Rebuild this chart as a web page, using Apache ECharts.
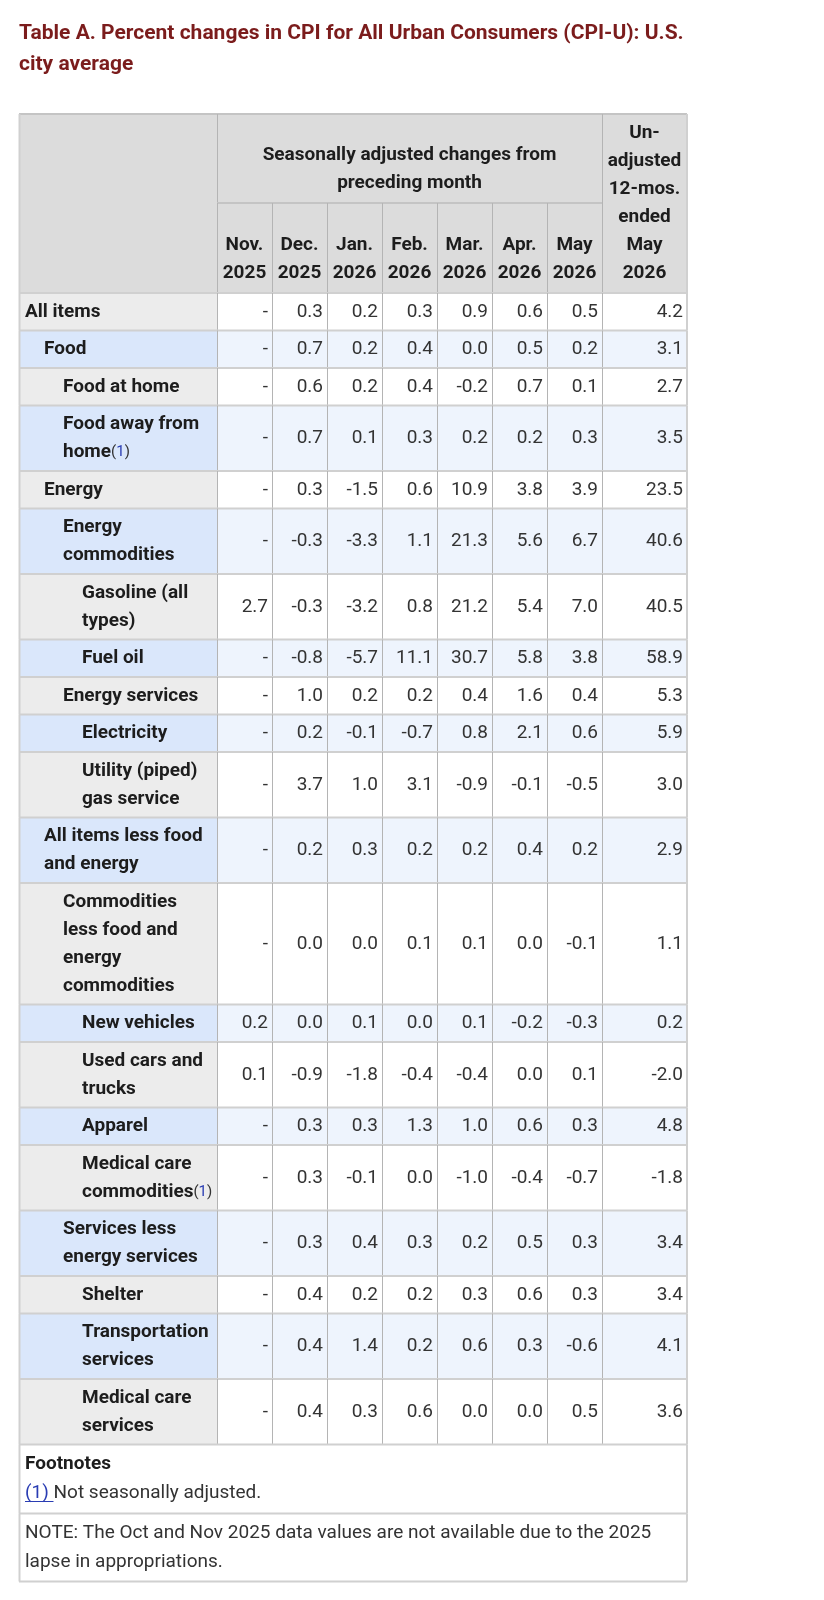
<!DOCTYPE html>
<html>
<head>
<meta charset="utf-8">
<script src="https://cdn.jsdelivr.net/npm/echarts@6/dist/echarts.min.js"></script>
<style>
  html, body { margin: 0; padding: 0; background: #fff; }
  #chart { width: 824px; height: 1600px; }
</style>
</head>
<body>
<div id="chart"></div>
<script>
// table texts
const tableTitle = 'Table A. Percent changes in CPI for All Urban Consumers (CPI-U): U.S.\ncity average'
const groupHeader = 'Seasonally adjusted changes from\npreceding month'
const yearHeader = 'Un-\nadjusted\n12-mos.\nended\nMay\n2026'
const months = ['Nov.\n2025', 'Dec.\n2025', 'Jan.\n2026', 'Feb.\n2026', 'Mar.\n2026', 'Apr.\n2026', 'May\n2026']
const footnoteText = 'Footnotes\n(1) Not seasonally adjusted.'
const noteText = 'NOTE: The Oct and Nov 2025 data values are not available due to the 2025\nlapse in appropriations.'

// row stubs and their indent level
const items = [
  'All items', 'Food', 'Food at home', 'Food away from\nhome(1)', 'Energy',
  'Energy\ncommodities', 'Gasoline (all\ntypes)', 'Fuel oil', 'Energy services', 'Electricity',
  'Utility (piped)\ngas service', 'All items less food\nand energy',
  'Commodities\nless food and\nenergy\ncommodities', 'New vehicles', 'Used cars and\ntrucks',
  'Apparel', 'Medical care\ncommodities(1)', 'Services less\nenergy services', 'Shelter',
  'Transportation\nservices', 'Medical care\nservices'
]
const levels = [0, 1, 2, 2, 1, 2, 3, 3, 2, 3, 3, 1, 2, 3, 3, 3, 3, 2, 3, 3, 3]

// monthly changes (null = not available)
const nov = [null, null, null, null, null, null, 2.7, null, null, null, null, null, null, 0.2, 0.1, null, null, null, null, null, null]
const dec = [0.3, 0.7, 0.6, 0.7, 0.3, -0.3, -0.3, -0.8, 1.0, 0.2, 3.7, 0.2, 0.0, 0.0, -0.9, 0.3, 0.3, 0.3, 0.4, 0.4, 0.4]
const jan = [0.2, 0.2, 0.2, 0.1, -1.5, -3.3, -3.2, -5.7, 0.2, -0.1, 1.0, 0.3, 0.0, 0.1, -1.8, 0.3, -0.1, 0.4, 0.2, 1.4, 0.3]
const feb = [0.3, 0.4, 0.4, 0.3, 0.6, 1.1, 0.8, 11.1, 0.2, -0.7, 3.1, 0.2, 0.1, 0.0, -0.4, 1.3, 0.0, 0.3, 0.2, 0.2, 0.6]
const mar = [0.9, 0.0, -0.2, 0.2, 10.9, 21.3, 21.2, 30.7, 0.4, 0.8, -0.9, 0.2, 0.1, 0.1, -0.4, 1.0, -1.0, 0.2, 0.3, 0.6, 0.0]
const apr = [0.6, 0.5, 0.7, 0.2, 3.8, 5.6, 5.4, 5.8, 1.6, 2.1, -0.1, 0.4, 0.0, -0.2, 0.0, 0.6, -0.4, 0.5, 0.6, 0.3, 0.0]
const may = [0.5, 0.2, 0.1, 0.3, 3.9, 6.7, 7.0, 3.8, 0.4, 0.6, -0.5, 0.2, -0.1, -0.3, 0.1, 0.3, -0.7, 0.3, 0.3, -0.6, 0.5]
// unadjusted 12 months ended May 2026
const yearly = [4.2, 3.1, 2.7, 3.5, 23.5, 40.6, 40.5, 58.9, 5.3, 5.9, 3.0, 2.9, 1.1, 0.2, -2.0, 4.8, -1.8, 3.4, 3.4, 4.1, 3.6]

const columns = [nov, dec, jan, feb, mar, apr, may, yearly]

// layout (px units on the hidden value axes)
const colWidths = [198, 55, 55, 55, 55, 55, 55, 55, 85]
const LINE = 28
const ROW_PAD = 9.5
const headTop = 89
const headBottom = 90
const footHeights = [69, 68]
const FONT = 'Roboto, "Noto Sans", sans-serif'
const FS = 19
const LINK = '#2a3db3'

const colX = [0]
colWidths.forEach(w => colX.push(colX[colX.length - 1] + w))
const tableW = colX[colX.length - 1]

const cells = []
function addCell (c) { cells.push(c) }

// header
const headH = headTop + headBottom
addCell({ kind: 'head', x0: 0, x1: colX[1], y0: 0, y1: headH, text: '' })
addCell({ kind: 'head', x0: colX[1], x1: colX[8], y0: 0, y1: headTop, text: groupHeader })
addCell({ kind: 'head', x0: colX[8], x1: colX[9], y0: 0, y1: headH, text: yearHeader })
months.forEach((m, i) => addCell({ kind: 'head', x0: colX[i + 1], x1: colX[i + 2], y0: headTop, y1: headH, text: m }))

// body
let y = headH
items.forEach((label, r) => {
  const h = label.split('\n').length * LINE + ROW_PAD
  const even = r % 2 === 1
  addCell({ kind: 'stub', x0: 0, x1: colX[1], y0: y, y1: y + h, text: label, level: levels[r], even })
  columns.forEach((col, c) => {
    const v = col[r]
    addCell({ kind: 'num', x0: colX[c + 1], x1: colX[c + 2], y0: y, y1: y + h, text: v == null ? '-' : v.toFixed(1), even })
  })
  y += h
})

// footnotes
addCell({ kind: 'foot', x0: 0, x1: tableW, y0: y, y1: y + footHeights[0], text: footnoteText })
y += footHeights[0]
addCell({ kind: 'note', x0: 0, x1: tableW, y0: y, y1: y + footHeights[1], text: noteText })
y += footHeights[1]
const tableH = y

const fills = {
  head: '#dcdcdc',
  stub: ['#ececec', '#dae7fb'],
  num: ['#ffffff', '#eef4fd'],
  foot: '#ffffff',
  note: '#ffffff'
}

const rich = {
  p: { fontFamily: FONT, fontSize: 15, fill: '#333', color: '#333', lineHeight: LINE },
  fn: { fontFamily: FONT, fontSize: 15, fill: LINK, color: LINK, lineHeight: LINE },
  b: { fontFamily: FONT, fontSize: FS, fontWeight: 'bold', fill: '#1d1d1d', color: '#1d1d1d', lineHeight: 29 },
  t: { fontFamily: FONT, fontSize: FS, fill: '#333', color: '#333', lineHeight: 29 },
  fl: { fontFamily: FONT, fontSize: FS, fill: LINK, color: LINK, lineHeight: 29 }
}

// width of the footnote link, for its underline
const measureCtx = document.createElement('canvas').getContext('2d')
measureCtx.font = FS + 'px ' + FONT
const linkW = measureCtx.measureText('(1) ').width

function cellText (c) {
  if (c.kind === 'stub') return c.text.replace('(1)', '{p|(}{fn|1}{p|)}')
  if (c.kind === 'foot') {
    const [head, body] = c.text.split('\n')
    return '{b|' + head + '}\n{fl|(1)}{t|' + body.replace('(1)', '') + '}'
  }
  return c.text
}

function renderCell (params, api) {
  const c = cells[api.value(4)]
  const a = api.coord([api.value(0), api.value(1)])
  const b = api.coord([api.value(2), api.value(3)])
  const fill = Array.isArray(fills[c.kind]) ? fills[c.kind][c.even ? 1 : 0] : fills[c.kind]
  const hLine = c.kind === 'head' ? '#c4c4c4' : '#d0d0d0'
  const vLine = (c.kind === 'num' || c.kind === 'head') && c.x0 > 0 ? '#b4b4b4' : '#d0d0d0'
  const children = [
    { type: 'rect', z2: 0, shape: { x: a[0], y: a[1], width: b[0] - a[0], height: b[1] - a[1] }, style: { fill } },
    { type: 'line', z2: 1, shape: { x1: a[0], y1: a[1], x2: b[0], y2: a[1] }, style: { stroke: hLine, lineWidth: 2 } },
    { type: 'line', z2: 1, shape: { x1: a[0] + 0.5, y1: a[1], x2: a[0] + 0.5, y2: b[1] }, style: { stroke: vLine, lineWidth: c.x0 > 0 ? 1 : 2 } }
  ]
  if (api.value(2) >= tableW) {
    children.push({ type: 'line', z2: 1, shape: { x1: b[0], y1: a[1], x2: b[0], y2: b[1] }, style: { stroke: '#d0d0d0', lineWidth: 2 } })
  }
  if (api.value(3) >= tableH) {
    children.push({ type: 'line', z2: 1, shape: { x1: a[0], y1: b[1], x2: b[0], y2: b[1] }, style: { stroke: '#d0d0d0', lineWidth: 2 } })
  }
  const midY = (a[1] + b[1]) / 2
  const text = { type: 'text', z2: 2, style: { text: cellText(c), rich, fontFamily: FONT, fontSize: FS, lineHeight: LINE } }
  if (c.kind === 'head') {
    Object.assign(text.style, { x: (a[0] + b[0]) / 2, y: b[1] - 6, align: 'center', verticalAlign: 'bottom', fontWeight: 'bold', fill: '#1d1d1d' })
  } else if (c.kind === 'stub') {
    Object.assign(text.style, { x: a[0] + 6 + c.level * 19, y: midY, align: 'left', verticalAlign: 'middle', fontWeight: 'bold', fill: '#1d1d1d' })
  } else if (c.kind === 'num') {
    Object.assign(text.style, { x: b[0] - 4, y: midY, align: 'right', verticalAlign: 'middle', fill: '#333' })
  } else {
    Object.assign(text.style, { x: a[0] + 6, y: midY, align: 'left', verticalAlign: 'middle', fill: '#333', lineHeight: 29 })
  }
  if (c.kind === 'foot') {
    // underline of the "(1)" link
    const uy = midY + 14.5 + 8
    children.push({ type: 'line', z2: 2, shape: { x1: a[0] + 6, y1: uy, x2: a[0] + 6 + linkW, y2: uy }, style: { stroke: LINK, lineWidth: 1 } })
  }
  children.push(text)
  return { type: 'group', children }
}

const chart = echarts.init(document.getElementById('chart'), null, { renderer: 'canvas' })
chart.setOption({
  animation: false,
  title: {
    text: tableTitle,
    left: 14,
    top: 13,
    textStyle: { color: '#7b1c1c', fontSize: 21, fontWeight: 'bold', lineHeight: 31, fontFamily: FONT }
  },
  grid: { left: 19, top: 114, width: tableW, height: tableH },
  xAxis: { type: 'value', min: 0, max: tableW, show: false },
  yAxis: { type: 'value', min: 0, max: tableH, inverse: true, show: false },
  series: [{
    type: 'custom',
    clip: false,
    renderItem: renderCell,
    encode: { x: [0, 2], y: [1, 3] },
    data: cells.map((c, i) => [c.x0, c.y0, c.x1, c.y1, i])
  }]
})
</script>
</body>
</html>
